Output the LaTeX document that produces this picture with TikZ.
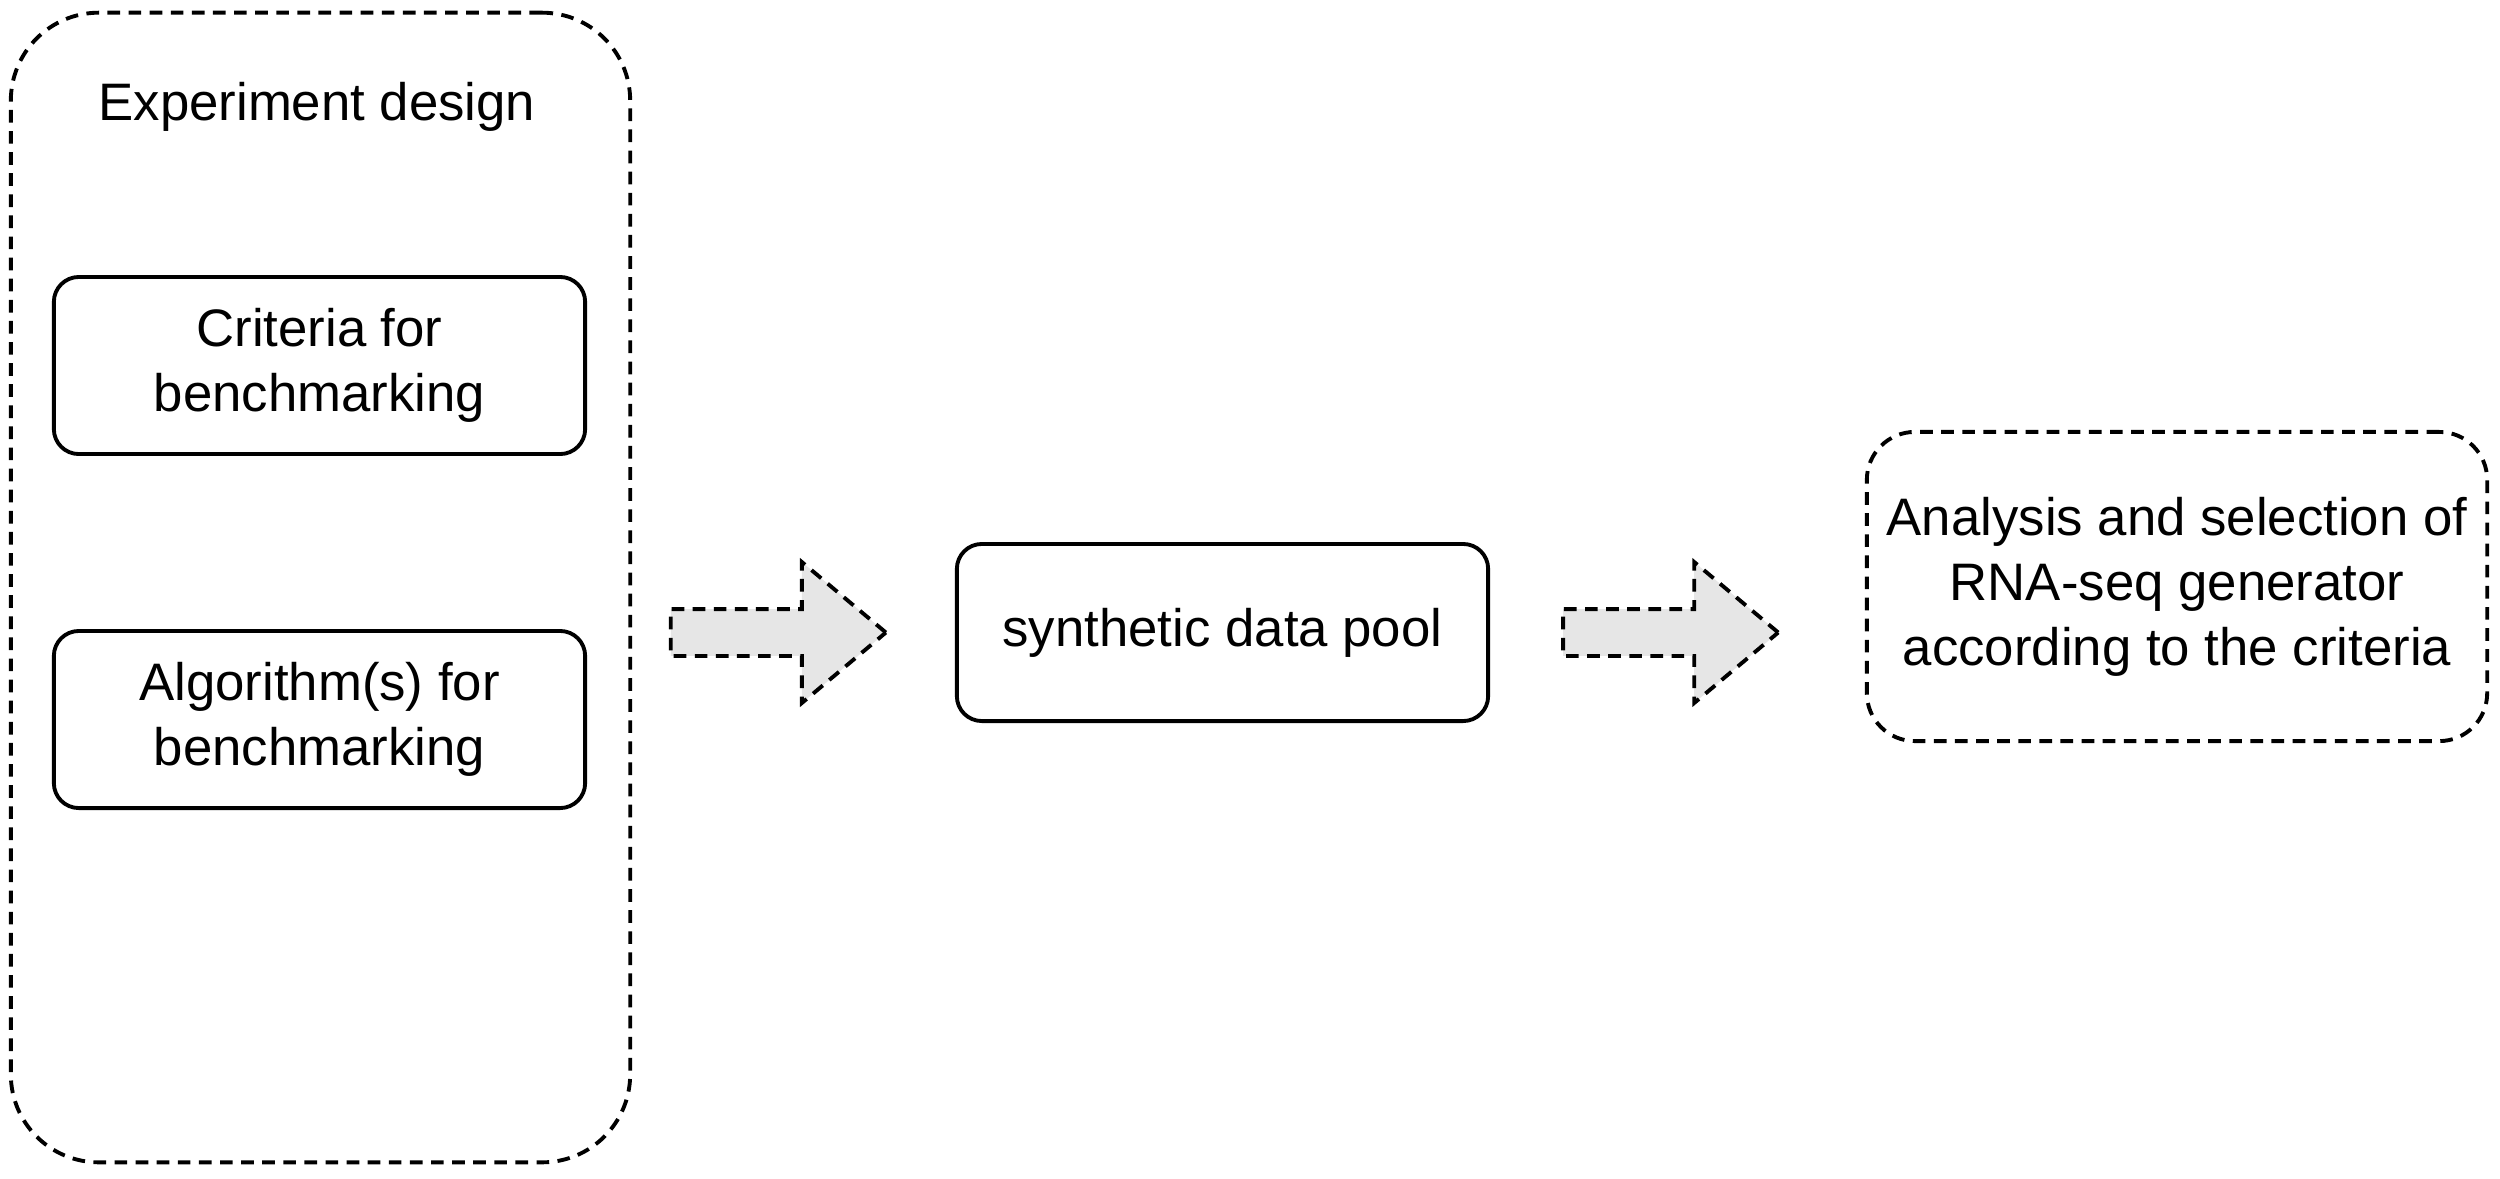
\documentclass[tikz,border=0pt]{standalone}
\usepackage{fontspec}
\setmainfont{Liberation Sans}
\usetikzlibrary{positioning,shapes.arrows}
\definecolor{ArrowFill}{HTML}{E6E6E6}

\tikzset{
  stagebox/.style={draw,line width=1.1pt,rounded corners=0.25cm,align=center,
    minimum width=5.31cm,minimum height=1.77cm,inner sep=0pt},
  groupbox/.style={draw,line width=1.1pt,dash pattern=on 3.6pt off 2.4pt,
    align=center,inner sep=0pt},
  flowarrow/.style={single arrow,draw,fill=ArrowFill,line width=1.1pt,
    dash pattern=on 3.6pt off 2.4pt,minimum height=2.15cm,
    inner xsep=0pt,inner ysep=0.215cm,
    single arrow head extend=0.47cm,single arrow tip angle=80}
}

\begin{document}
\begin{tikzpicture}[x=0.01cm,y=-0.01cm,font=\fontsize{15}{18.5}\selectfont]
  \useasboundingbox (0,0) rectangle (2500,1178);
  % left group
  \node[groupbox,rounded corners=0.88cm,minimum width=6.19cm,minimum height=11.49cm]
    (design) at (320.5,587.5) {};
  \node (designlbl) at (317,107) {Experiment design};
  \node[stagebox] (criteria) at (319.5,365.5) {Criteria for\\benchmarking};
  \node[stagebox] (algo) at (319.5,719.5) {Algorithm(s) for\\benchmarking};
  % pool and result
  \node[stagebox] (pool) at (1222.5,632.5) {synthetic data pool};
  \node[groupbox,rounded corners=0.48cm,minimum width=6.2cm,minimum height=3.09cm]
    (select) at (2177,586.5)
    {Analysis and selection of\\RNA-seq generator\\according to the criteria};
  % block arrows
  \node[flowarrow,left=0.66cm of pool] (arrowin) {};
  \node[flowarrow,right=0.71cm of pool] (arrowout) {};
\end{tikzpicture}
\end{document}
